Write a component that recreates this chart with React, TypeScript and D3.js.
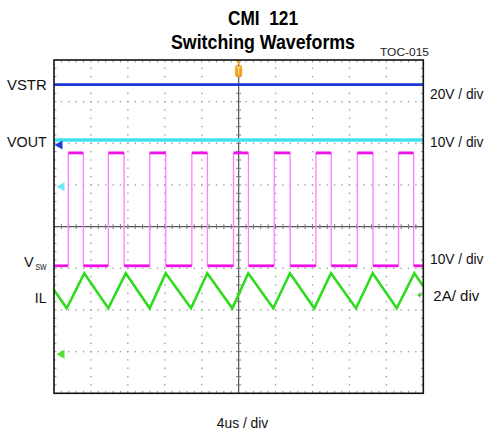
import React from "react";
import * as d3 from "d3";

// ---- data (time in us, amplitude in divisions from screen centre) ----
const titleLines = ["CMI  121", "Switching Waveforms"];
const chartId = "TOC-015";
const timeDomain = [0, 40];
const divDomain = [-4, 4];
const xDivisions = 10;
const yDivisions = 8;
const minorPerDiv = 5;

const vstrLevel = 3.41;
const voutLevel = 2.08;

const vswRise = [1.55, 5.89, 10.37, 14.93, 19.44, 23.85, 28.37, 32.85, 37.32];
const vswFall = [3.18, 7.59, 12.11, 16.62, 21.06, 25.58, 30.03, 34.55, 38.95];
const vswHigh = 1.77;
const vswLow = -0.94;

const ilTimes = [0, 1.38, 3.28, 5.88, 7.77, 10.37, 12.1, 14.84, 16.6, 19.31, 21.04, 23.75, 25.56, 28.19, 30.0, 32.71, 34.52, 37.12, 39.03, 40];
const ilValues = [-1.52, -1.96, -1.12, -1.96, -1.12, -1.96, -1.12, -1.96, -1.12, -1.96, -1.12, -1.96, -1.12, -1.96, -1.12, -1.96, -1.12, -1.96, -1.12, -1.43];

const leftLabels = [
  { text: "VSTR", level: 3.41 },
  { text: "VOUT", level: 2.08 },
];
const rightLabels = ["20V / div", "10V / div", "10V / div", "2A/ div"];
const rightLabelLevels = [3.12, 1.97, -0.9, -1.78];
const xAxisLabel = "4us / div";
const triggerTime = 20;
const refMarkers = [
  { level: 1.96, color: "#1a3fd0" },
  { level: 0.96, color: "#6fe8f5" },
  { level: -3.06, color: "#55dd33" },
];

const FONT = "'Liberation Sans', Arial, Helvetica, sans-serif";

export default function App() {
  const x = d3.scaleLinear().domain(timeDomain).range([54, 423.3]);
  const y = d3.scaleLinear().domain(divDomain).range([393.3, 60]);

  const [x0, x1] = x.range();
  const [y1, y0] = y.range();
  const xc = x(triggerTime);
  const yc = y(0);

  const xMajor = d3.range(0, xDivisions + 1).map((i) => timeDomain[0] + (i * (timeDomain[1] - timeDomain[0])) / xDivisions);
  const yMajor = d3.range(0, yDivisions + 1).map((i) => divDomain[0] + (i * (divDomain[1] - divDomain[0])) / yDivisions);
  const xMinor = d3.range(0, xDivisions * minorPerDiv + 1).map((i) => timeDomain[0] + (i * (timeDomain[1] - timeDomain[0])) / (xDivisions * minorPerDiv));
  const yMinor = d3.range(0, yDivisions * minorPerDiv + 1).map((i) => divDomain[0] + (i * (divDomain[1] - divDomain[0])) / (yDivisions * minorPerDiv));

  // grid dots
  const dots: { cx: number; cy: number }[] = [];
  yMajor.slice(1, -1).forEach((v) => {
    if (v === 0) return;
    xMinor.slice(1, -1).forEach((t) => dots.push({ cx: x(t), cy: y(v) }));
  });
  xMajor.slice(1, -1).forEach((t) => {
    if (t === triggerTime) return;
    yMinor.slice(1, -1).forEach((v) => dots.push({ cx: x(t), cy: y(v) }));
  });

  const line = d3.line<[number, number]>().x((d) => x(d[0])).y((d) => y(d[1]));

  // VSW edges and levels
  const vswLevelsHigh: [number, number][][] = vswRise.map((r, i) => [[r, vswHigh], [vswFall[i], vswHigh]]);
  const lowStarts = [timeDomain[0], ...vswFall];
  const lowEnds = [...vswRise, timeDomain[1]];
  const vswLevelsLow: [number, number][][] = lowStarts.map((s, i) => [[s, vswLow], [lowEnds[i], vswLow]]);
  const vswEdges: [number, number][][] = [...vswRise, ...vswFall].map((t) => [[t, vswLow], [t, vswHigh]]);

  const ilPts: [number, number][] = ilTimes.map((t, i) => [t, ilValues[i]]);

  return (
    <svg
      width={487}
      height={435}
      style={{ position: "absolute", left: 0, top: 0, background: "#fff" }}
      fontFamily={FONT}
    >
      <rect x={0} y={0} width={487} height={435} fill="#fff" />

      {/* titles */}
      <text x={263} y={25} textAnchor="middle" fontSize={20} fontWeight="bold" textLength={70} lengthAdjust="spacingAndGlyphs" style={{ whiteSpace: "pre" }}>
        {titleLines[0]}
      </text>
      <text x={263} y={49.3} textAnchor="middle" fontSize={20} fontWeight="bold" textLength={184} lengthAdjust="spacingAndGlyphs">
        {titleLines[1]}
      </text>
      <text x={404.5} y={56} textAnchor="middle" fontSize={10.5} textLength={49} lengthAdjust="spacingAndGlyphs" fill="#222">
        {chartId}
      </text>

      {/* grid dots */}
      {dots.map((d, i) => (
        <rect key={i} x={d.cx - 0.7} y={d.cy - 0.7} width={1.4} height={1.4} fill="#a0a0a0" />
      ))}

      {/* border ticks */}
      {xMinor.slice(1, -1).map((t, i) => (
        <g key={"bt" + i} stroke="#999" strokeWidth={1}>
          <line x1={x(t)} x2={x(t)} y1={y0} y2={y0 + 2.5} />
          <line x1={x(t)} x2={x(t)} y1={y1} y2={y1 - 2.5} />
        </g>
      ))}
      {yMinor.slice(1, -1).map((v, i) => (
        <g key={"bl" + i} stroke="#999" strokeWidth={1}>
          <line x1={x0} x2={x0 + 2.5} y1={y(v)} y2={y(v)} />
          <line x1={x1} x2={x1 - 2.5} y1={y(v)} y2={y(v)} />
        </g>
      ))}

      {/* centre axes with ticks */}
      <line x1={x0} x2={x1} y1={yc} y2={yc} stroke="#555" strokeWidth={1.2} />
      <line x1={xc} x2={xc} y1={y0} y2={y1} stroke="#555" strokeWidth={1.2} />
      {xMinor.slice(1, -1).map((t, i) => (
        <line key={"cx" + i} x1={x(t)} x2={x(t)} y1={yc - 2.5} y2={yc + 2.5} stroke="#777" strokeWidth={1} />
      ))}
      {yMinor.slice(1, -1).map((v, i) => (
        <line key={"cy" + i} x1={xc - 2.5} x2={xc + 2.5} y1={y(v)} y2={y(v)} stroke="#777" strokeWidth={1} />
      ))}

      {/* waveforms */}
      <path d={line([[timeDomain[0], vstrLevel], [timeDomain[1], vstrLevel]]) || ""} stroke="#1a35d8" strokeWidth={2.6} fill="none" />
      <path d={line([[timeDomain[0], voutLevel], [timeDomain[1], voutLevel]]) || ""} stroke="#3fe3ef" strokeWidth={3.4} fill="none" />

      {vswEdges.map((seg, i) => (
        <path key={"e" + i} d={line(seg) || ""} stroke="#ff7cff" strokeWidth={1.3} fill="none" />
      ))}
      {vswLevelsHigh.map((seg, i) => (
        <path key={"h" + i} d={line(seg) || ""} stroke="#f010e8" strokeWidth={2.8} fill="none" />
      ))}
      {vswLevelsLow.map((seg, i) => (
        <path key={"l" + i} d={line(seg) || ""} stroke="#f010e8" strokeWidth={2.8} fill="none" />
      ))}

      <path d={line(ilPts) || ""} stroke="#2edc1e" strokeWidth={2.6} fill="none" strokeLinejoin="miter" />

      {/* left reference markers */}
      {refMarkers.map((m, i) => {
        const yy = y(m.level);
        const tip = i === 0 ? x0 + 0.5 : x0 + 2.5;
        return <path key={"m" + i} d={`M${tip},${yy} L${tip + 8},${yy - 4.5} L${tip + 8},${yy + 4.5} Z`} fill={m.color} />;
      })}
      {/* right IL marker */}
      <path d={`M${x1 - 6},${y(-1.64)} L${x1 - 3},${y(-1.64) - 3} L${x1 - 3},${y(-1.64) + 3} Z`} fill="#44cc33" />
      <line x1={x1 - 4} x2={x1 - 1.5} y1={y(-1.64)} y2={y(-1.64)} stroke="#44cc33" strokeWidth={1.5} />

      {/* trigger marker */}
      <path d={`M${xc - 3.5},${y0} L${xc + 3.5},${y0} L${xc},${y0 + 4}Z`} fill="#f5a020" />
      <rect x={xc - 3.5} y={y0 + 5} width={7} height={12} rx={2.5} fill="#f5a020" />
      <path d={`M${xc - 2},${y0 + 7.5} L${xc + 2},${y0 + 7.5} M${xc},${y0 + 7.5} L${xc},${y0 + 14.5}`} stroke="#ffe6b0" strokeWidth={1} />

      {/* border */}
      <rect x={x0} y={y0} width={x1 - x0} height={y1 - y0} fill="none" stroke="#111" strokeWidth={1.6} />

      {/* left labels */}
      {leftLabels.map((l, i) => (
        <text key={"ll" + i} x={46.7} y={i === 0 ? 90 : 147.3} textAnchor="end" fontSize={14} textLength={39.7} lengthAdjust="spacingAndGlyphs" fill="#111">
          {l.text}
        </text>
      ))}
      <text x={24} y={267.3} fontSize={14.5} fill="#111">V</text>
      <text x={35.5} y={269.5} fontSize={9.5} fill="#111" textLength={11} lengthAdjust="spacingAndGlyphs">SW</text>
      <text x={46.5} y={302.5} textAnchor="end" fontSize={14} fill="#111">IL</text>

      {/* right labels */}
      <text x={430} y={99.3} fontSize={14} fill="#111" textLength={53.5} lengthAdjust="spacingAndGlyphs">{rightLabels[0]}</text>
      <text x={430} y={147} fontSize={14} fill="#111" textLength={53.5} lengthAdjust="spacingAndGlyphs">{rightLabels[1]}</text>
      <text x={430} y={264} fontSize={14} fill="#111" textLength={53.5} lengthAdjust="spacingAndGlyphs">{rightLabels[2]}</text>
      <text x={433.3} y={300.7} fontSize={14} fill="#111" textLength={46} lengthAdjust="spacingAndGlyphs">{rightLabels[3]}</text>

      {/* x label */}
      <text x={242.5} y={428} textAnchor="middle" fontSize={14} fill="#111" textLength={51.5} lengthAdjust="spacingAndGlyphs">
        {xAxisLabel}
      </text>
    </svg>
  );
}
